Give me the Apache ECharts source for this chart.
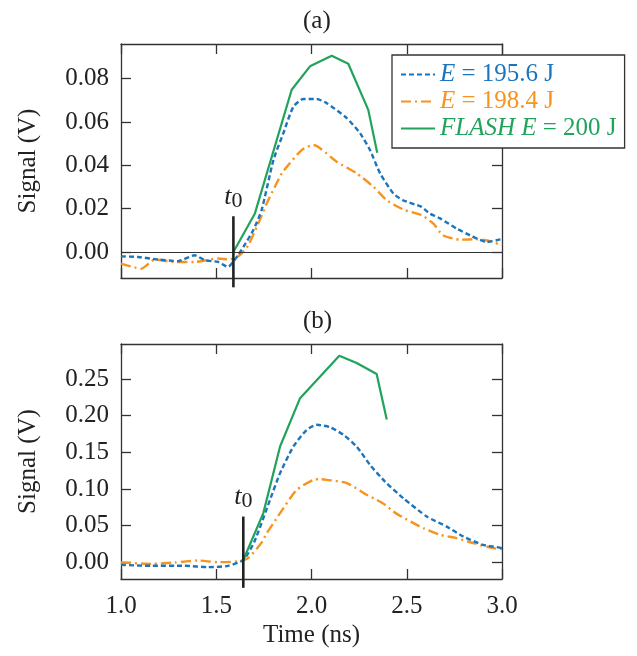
<!DOCTYPE html>
<html><head><meta charset="utf-8">
<script src="https://cdn.jsdelivr.net/npm/echarts@6.0.0/dist/echarts.min.js"></script>
<style>html,body{margin:0;padding:0;background:#fff}#c{width:637px;height:656px}</style>
</head><body><div id="c"></div>
<script>
// ---------- data ----------
const timeTicks = [1.0, 1.5, 2.0, 2.5, 3.0];
const yTicksA = [0, 0.02, 0.04, 0.06, 0.08];
const yTicksB = [0, 0.05, 0.10, 0.15, 0.20, 0.25];
const seriesNames = ['E = 195.6 J', 'E = 198.4 J', 'FLASH E = 200 J'];
const panelTitles = ['(a)', '(b)'];

// panel (a)
const blueA_t = [1.00, 1.09, 1.195, 1.30, 1.387, 1.44, 1.51, 1.562, 1.588, 1.614, 1.642, 1.694, 1.738, 1.80, 1.852, 1.905, 1.957, 2.027, 2.08, 2.185, 2.255, 2.307, 2.36, 2.43, 2.48, 2.578, 2.62, 2.675, 2.762, 2.832, 2.92, 2.972, 3.00];
const blueA_v = [-0.0020, -0.0023, -0.0035, -0.0042, -0.0015, -0.0038, -0.0046, -0.0069, -0.0046, -0.0015, 0.0023, 0.0100, 0.0193, 0.0424, 0.0548, 0.0671, 0.0706, 0.0706, 0.0687, 0.0618, 0.0548, 0.0471, 0.0363, 0.0270, 0.0239, 0.0208, 0.0178, 0.0155, 0.0108, 0.0077, 0.0046, 0.0054, 0.0060];
const orangeA_t = [1.00, 1.107, 1.177, 1.282, 1.387, 1.51, 1.57, 1.623, 1.667, 1.72, 1.765, 1.807, 1.844, 1.878, 1.949, 2.01, 2.045, 2.132, 2.237, 2.325, 2.395, 2.438, 2.49, 2.578, 2.64, 2.69, 2.78, 2.867, 2.94, 3.00];
const orangeA_v = [-0.0054, -0.0077, -0.0035, -0.0046, -0.0046, -0.0030, -0.0035, -0.0015, 0.0030, 0.0130, 0.0224, 0.0300, 0.0363, 0.0401, 0.0471, 0.0494, 0.0479, 0.0417, 0.0363, 0.0301, 0.0239, 0.0216, 0.0193, 0.0170, 0.0131, 0.0077, 0.0057, 0.0059, 0.0050, 0.0030];
const greenA_t = [1.59, 1.703, 1.896, 1.992, 2.106, 2.193, 2.298, 2.345];
const greenA_v = [0.0, 0.0178, 0.0749, 0.0857, 0.0906, 0.0869, 0.0656, 0.0458];
const t0A = 1.59;
const t0A_span = [0.0165, -0.0163];

// panel (b)
const blueB_t = [1.00, 1.16, 1.334, 1.457, 1.562, 1.642, 1.70, 1.782, 1.835, 1.905, 1.975, 2.027, 2.097, 2.167, 2.237, 2.307, 2.386, 2.482, 2.605, 2.71, 2.797, 2.90, 2.972, 3.00];
const blueB_v = [-0.0037, -0.0050, -0.0050, -0.0068, -0.0050, 0.0030, 0.0280, 0.0850, 0.1216, 0.1580, 0.1807, 0.1876, 0.1844, 0.1740, 0.1580, 0.1330, 0.1100, 0.0874, 0.0623, 0.0486, 0.0350, 0.0236, 0.0205, 0.0190];
const orangeB_t = [1.00, 1.16, 1.282, 1.404, 1.51, 1.614, 1.667, 1.736, 1.765, 1.807, 1.835, 1.922, 2.01, 2.045, 2.08, 2.185, 2.29, 2.342, 2.386, 2.43, 2.456, 2.587, 2.675, 2.762, 2.85, 2.955, 3.00];
const orangeB_v = [-0.0005, -0.0023, -0.0005, 0.0022, 0.0000, 0.0010, 0.0055, 0.0260, 0.0396, 0.0560, 0.0670, 0.0988, 0.1124, 0.1134, 0.1124, 0.1080, 0.0920, 0.0851, 0.0783, 0.0691, 0.0646, 0.0464, 0.0373, 0.0328, 0.0260, 0.0191, 0.0180];
const greenB_t = [1.642, 1.747, 1.835, 1.94, 2.146, 2.237, 2.342, 2.395];
const greenB_v = [0.003, 0.067, 0.158, 0.224, 0.282, 0.272, 0.257, 0.195];
const t0B = 1.642;
const t0B_span = [0.0623, -0.0351];

// ---------- styling ----------
const FONT = 'Liberation Serif';
const BLUE = '#1b75bc', ORANGE = '#f7931e', GREEN = '#21a35b', AX = '#333';
const zip = (t, v) => t.map((x, i) => [x, v[i]]);

function xAx(grid, pos, labels) {
  return {
    type: 'value', gridIndex: grid, position: pos, min: timeTicks[0], max: timeTicks[timeTicks.length - 1], interval: 0.5,
    axisLine: { show: true, onZero: false, lineStyle: { color: AX, width: 1.3 } },
    axisTick: { show: true, inside: true, length: 10, lineStyle: { color: AX, width: 1.3 } },
    splitLine: { show: false },
    axisLabel: { show: labels, color: '#222', fontFamily: FONT, fontSize: 25, margin: 15, formatter: v => v.toFixed(1) },
    name: labels ? 'Time (ns)' : '', nameLocation: 'middle', nameGap: 44,
    nameTextStyle: { color: '#222', fontFamily: FONT, fontSize: 25 }
  };
}
function yAx(grid, pos, min, max, ticks, labels) {
  return {
    type: 'value', gridIndex: grid, position: pos, min: min, max: max,
    axisLine: { show: true, onZero: false, lineStyle: { color: AX, width: 1.3 } },
    axisTick: { show: true, inside: true, length: 10, customValues: ticks, lineStyle: { color: AX, width: 1.3 } },
    splitLine: { show: false },
    axisLabel: { show: labels, customValues: ticks, color: '#222', fontFamily: FONT, fontSize: 25, margin: 12, formatter: v => v.toFixed(2) },
    name: labels ? 'Signal (V)' : '', nameLocation: 'middle', nameGap: 80, nameRotate: 90,
    nameTextStyle: { color: '#222', fontFamily: FONT, fontSize: 25 }
  };
}
function t0Series(xi, t, span) {
  return {
    type: 'line', xAxisIndex: xi, yAxisIndex: xi, clip: false, symbol: 'none', silent: true, z: 5,
    lineStyle: { color: '#222', width: 2.6 },
    data: [
      { value: [t, span[0]], symbol: 'circle', symbolSize: 1, itemStyle: { color: 'rgba(0,0,0,0)' },
        label: { show: true, position: 'top', distance: 6, formatter: '{t|t}{s|0}',
          rich: { t: { fontFamily: FONT, fontStyle: 'italic', fontSize: 26, lineHeight: 26, color: '#222', verticalAlign: 'top' },
                  s: { fontFamily: FONT, fontSize: 22, lineHeight: 22, color: '#222', padding: [6, 0, 0, 0], verticalAlign: 'top' } } } },
      [t, span[1]]
    ]
  };
}
const blueStyle = { color: BLUE, width: 2.4, type: [5, 3] };
const orangeStyle = { color: ORANGE, width: 2.4, type: [10, 4, 2, 4] };
const greenStyle = { color: GREEN, width: 2.2 };

const option = {
  animation: false,
  backgroundColor: '#fff',
  title: [
    { text: panelTitles[0], left: 298, top: 4, textStyle: { fontFamily: FONT, fontSize: 25, fontWeight: 'normal', color: '#222' } },
    { text: panelTitles[1], left: 298, top: 304, textStyle: { fontFamily: FONT, fontSize: 25, fontWeight: 'normal', color: '#222' } }
  ],
  grid: [
    { left: 121, right: 135, top: 44, height: 234 },
    { left: 121, right: 135, top: 344, height: 235 }
  ],
  xAxis: [xAx(0, 'bottom', false), xAx(0, 'top', false), xAx(1, 'bottom', true), xAx(1, 'top', false)],
  yAxis: [
    yAx(0, 'left', -0.012, 0.096, yTicksA, true), yAx(0, 'right', -0.012, 0.096, yTicksA, false),
    yAx(1, 'left', -0.023, 0.298, yTicksB, true), yAx(1, 'right', -0.023, 0.298, yTicksB, false)
  ],
  legend: {
    orient: 'vertical', left: 392, top: 55, padding: [7, 8, 7, 8], itemGap: 2,
    itemWidth: 34, itemHeight: 14, selectedMode: false,
    itemStyle: { opacity: 0 },
    borderColor: AX, borderWidth: 1.3, backgroundColor: '#fff', z: 10,
    textStyle: { fontFamily: FONT, fontSize: 25, lineHeight: 25,
      rich: { i: { fontStyle: 'italic', fontFamily: FONT, fontSize: 25 } } },
    formatter: name => name === seriesNames[0] ? '{i|E} = 195.6 J' : name === seriesNames[1] ? '{i|E} = 198.4 J' : '{i|FLASH E} = 200 J',
    data: [
      { name: seriesNames[0], textStyle: { color: BLUE } },
      { name: seriesNames[1], textStyle: { color: ORANGE } },
      { name: seriesNames[2], textStyle: { color: GREEN } }
    ]
  },
  series: [
    { name: seriesNames[0], type: 'line', xAxisIndex: 0, yAxisIndex: 0, showSymbol: false, symbol: 'none', smooth: 0.2, color: BLUE, lineStyle: blueStyle, data: zip(blueA_t, blueA_v), z: 3,
      markLine: { silent: true, symbol: ['none', 'none'], label: { show: false }, lineStyle: { color: AX, type: 'solid', width: 1.2 }, data: [{ yAxis: 0 }] } },
    { name: seriesNames[1], type: 'line', xAxisIndex: 0, yAxisIndex: 0, showSymbol: false, symbol: 'none', smooth: 0.2, color: ORANGE, lineStyle: orangeStyle, data: zip(orangeA_t, orangeA_v), z: 2 },
    { name: seriesNames[2], type: 'line', xAxisIndex: 0, yAxisIndex: 0, showSymbol: false, symbol: 'none', color: GREEN, lineStyle: greenStyle, data: zip(greenA_t, greenA_v), z: 4 },
    t0Series(0, t0A, t0A_span),
    { name: seriesNames[0], type: 'line', xAxisIndex: 2, yAxisIndex: 2, showSymbol: false, symbol: 'none', smooth: 0.2, color: BLUE, lineStyle: blueStyle, data: zip(blueB_t, blueB_v), z: 3 },
    { name: seriesNames[1], type: 'line', xAxisIndex: 2, yAxisIndex: 2, showSymbol: false, symbol: 'none', smooth: 0.2, color: ORANGE, lineStyle: orangeStyle, data: zip(orangeB_t, orangeB_v), z: 2 },
    { name: seriesNames[2], type: 'line', xAxisIndex: 2, yAxisIndex: 2, showSymbol: false, symbol: 'none', color: GREEN, lineStyle: greenStyle, data: zip(greenB_t, greenB_v), z: 4 },
    t0Series(2, t0B, t0B_span)
  ]
};
const chart = echarts.init(document.getElementById('c'), null, { renderer: 'canvas' });
chart.setOption(option);
</script></body></html>
